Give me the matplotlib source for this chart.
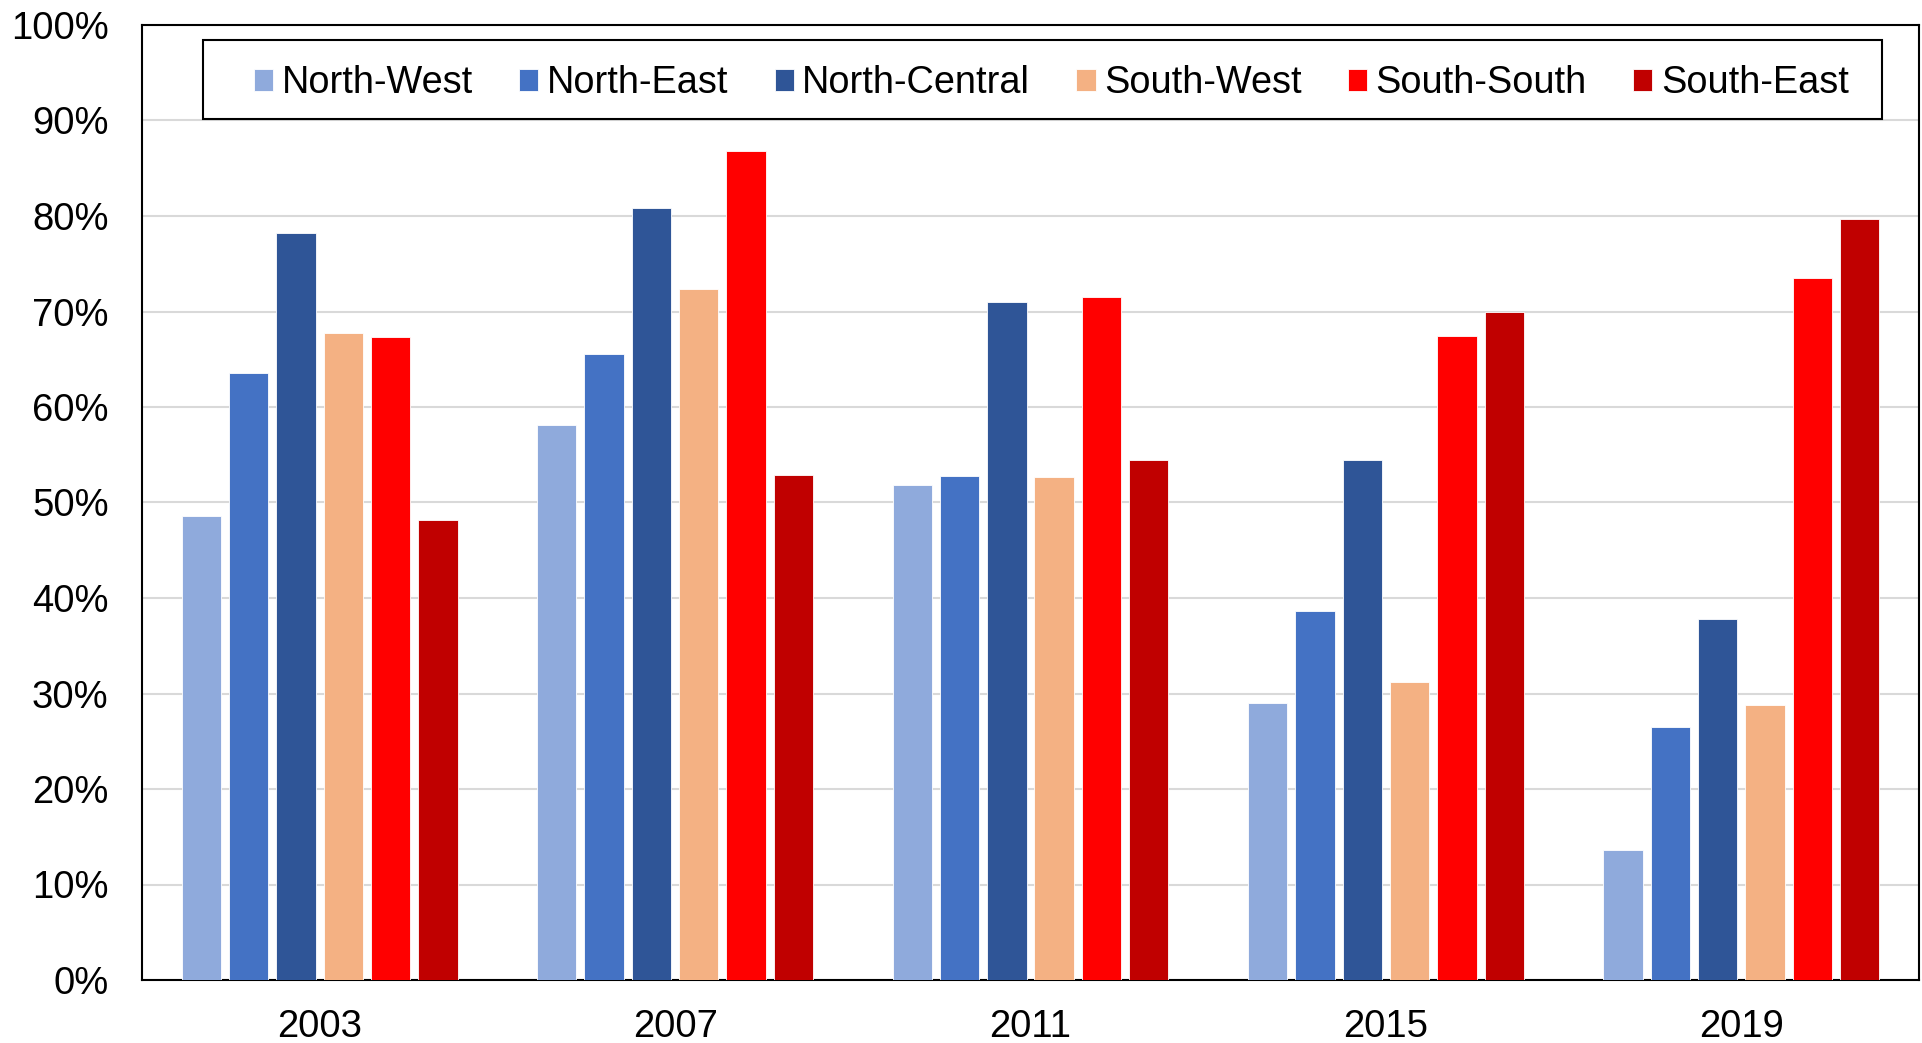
import matplotlib
matplotlib.use("Agg")
import matplotlib.pyplot as plt
import numpy as np
from matplotlib.ticker import FuncFormatter
from matplotlib.patches import Rectangle

plt.rcParams['font.family'] = ['Liberation Sans', 'DejaVu Sans']

years = ['2003', '2007', '2011', '2015', '2019']
regions = ['North-West', 'North-East', 'North-Central', 'South-West', 'South-South', 'South-East']
colors = ['#8FAADC', '#4472C4', '#2F5597', '#F4B183', '#FF0000', '#C00000']

north_west = [48.6, 58.1, 51.8, 29.0, 13.6]
north_east = [63.6, 65.5, 52.8, 38.6, 26.5]
north_central = [78.2, 80.8, 71.0, 54.4, 37.8]
south_west = [67.7, 72.4, 52.7, 31.2, 28.8]
south_south = [67.3, 86.8, 71.5, 67.4, 73.5]
south_east = [48.2, 52.9, 54.4, 70.0, 79.7]

series = [north_west, north_east, north_central, south_west, south_south, south_east]

fig = plt.figure(figsize=(19.22, 10.43), dpi=100)
ax = fig.add_axes([142/1922, 1-980/1043, 1777/1922, 955/1043])

x = np.arange(len(years))
slot = 0.1331
width = 0.1106
for i, vals in enumerate(series):
    ax.bar(x + (i - 2.5)*slot, vals, width, color=colors[i], label=regions[i],
           edgecolor='white', linewidth=0.6, zorder=3)

ax.set_ylim(0, 100)
ax.set_xlim(-0.5, 4.5)
ax.set_yticks(np.arange(0, 101, 10))
ax.yaxis.set_major_formatter(FuncFormatter(lambda v, p: '%d%%' % v))
ax.set_xticks(x)
ax.set_xticklabels(years)
ax.tick_params(axis='both', length=0, labelsize=27.5)
ax.tick_params(axis='y', pad=24)
ax.tick_params(axis='x', pad=21)
ax.grid(axis='y', color='#d9d9d9', linewidth=1.5, zorder=0)
for s in ax.spines.values():
    s.set_linewidth(1.5)
    s.set_color('black')

# legend frame drawn separately so the padding matches
ax.add_patch(Rectangle((0.0346, 0.9016), 0.979 - 0.0346, 0.9838 - 0.9016,
                       transform=ax.transAxes, facecolor='white', edgecolor='black',
                       linewidth=1.5, zorder=4))
leg = ax.legend(loc='center left', bbox_to_anchor=(0.063, 0.9388), ncol=6,
                fontsize=27.3, frameon=False,
                handlelength=0.51, handleheight=0.51, handletextpad=0.22,
                columnspacing=1.22, borderpad=0, borderaxespad=0)
leg.set_zorder(5)

fig.savefig('out.png', dpi=100, facecolor='white')
